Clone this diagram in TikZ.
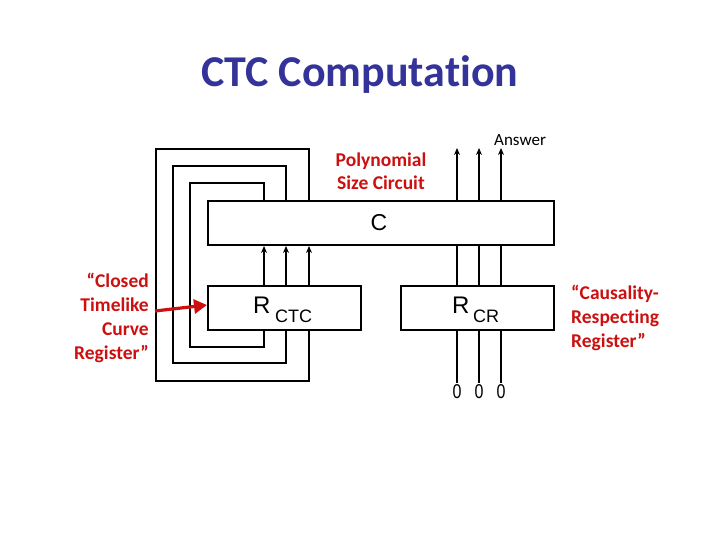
\documentclass[tikz,border=0pt]{standalone}
\usepackage{fontspec}
\setmainfont{Carlito}[RawFeature={-liga}]
\newfontfamily\arialf{Liberation Sans}
\usetikzlibrary{arrows.meta}
\definecolor{titleblue}{RGB}{51,51,153}
\definecolor{labred}{RGB}{204,16,16}
\begin{document}
\begin{tikzpicture}[x=1pt,y=-1pt,
  box/.style={draw=black,line width=2pt,inner sep=0pt,anchor=north west},
  wire/.style={line width=2pt},
  upwire/.style={line width=1.8pt,-{Stealth[length=7pt,width=6pt]}},
  redlab/.style={text=labred,font=\fontsize{19.5}{24}\selectfont\bfseries,inner sep=0pt},
]
\useasboundingbox (0,0) rectangle (720,540);
% title
\node[anchor=base,font=\fontsize{44}{48}\selectfont\bfseries,text=titleblue,inner sep=0pt] (title) at (360,87) {CTC Computation};
% boxes
\node[box,minimum width=346pt,minimum height=44pt] (C) at (207,200) {};
\node[box,minimum width=153pt,minimum height=44pt] (Rctc) at (207,285) {};
\node[box,minimum width=153pt,minimum height=44pt] (Rcr) at (400,285) {};
\node[anchor=base,font=\arialf\fontsize{23}{26}\selectfont,inner sep=0pt] (Clab) at (379,230) {C};
\node[anchor=base west,font=\arialf\fontsize{24}{26}\selectfont,inner sep=0pt] (Rctcl) at (253,313) {R};
\node[anchor=base west,font=\arialf\fontsize{18}{20}\selectfont,inner sep=0pt] (Rctcs) at (275,322) {CTC};
\node[anchor=base west,font=\arialf\fontsize{24}{26}\selectfont,inner sep=0pt] (Rcrl) at (452,313) {R};
\node[anchor=base west,font=\arialf\fontsize{18}{20}\selectfont,inner sep=0pt] (Rcrs) at (473,322) {CR};
% loops (CTC feedback)
\foreach \i/\xx/\xl/\yt/\yb in {1/264/190/183/347, 2/286/173/166/363, 3/309/156/149/381}{
  \coordinate (tA\i) at (\xx,\yt);
  \coordinate (tB\i) at (\xl,\yt);
  \coordinate (tC\i) at (\xl,\yb);
  \coordinate (tD\i) at (\xx,\yb);
  \draw[wire,line join=miter] (C.north -| tA\i) -- (tA\i) -- (tB\i) -- (tC\i) -- (tD\i) -- (Rctc.south -| tD\i);
  \draw[upwire] (Rctc.north -| tA\i) -- (C.south -| tA\i);
}
% causality-respecting wires
\foreach \i/\xx in {1/457,2/479,3/501}{
  \coordinate (out\i) at (\xx,148);
  \coordinate (zero\i) at (\xx,383);
  \draw[upwire] (C.north -| out\i) -- (out\i);
  \draw[wire] (Rcr.north -| out\i) -- (C.south -| out\i);
  \draw[wire] (Rcr.south -| zero\i) -- (zero\i);
  \node[anchor=base,font=\arialf\fontsize{20}{22}\selectfont,inner sep=0pt,xscale=0.8] (z\i) at (\xx,398) {0};
}
\node[anchor=base west,font=\fontsize{17}{18}\selectfont,inner sep=0pt] (ans) at (494,146) {Answer};
% red labels
\node[redlab,anchor=base,align=center] (poly) at (381,190) {Polynomial\\Size Circuit};
\node[redlab,anchor=north east,align=right] (ctcl) at (149,273) {“Closed\\Timelike\\Curve\\Register”};
\node[redlab,anchor=north west,align=left] (crl) at (571,285) {“Causality-\\Respecting\\Register”};
\coordinate (tail) at (155,311);
\draw[labred,line width=3.2pt,-{Triangle[length=13pt,width=14pt]}] (tail) -- (Rctc.west |- 0,305);
\end{tikzpicture}
\end{document}
